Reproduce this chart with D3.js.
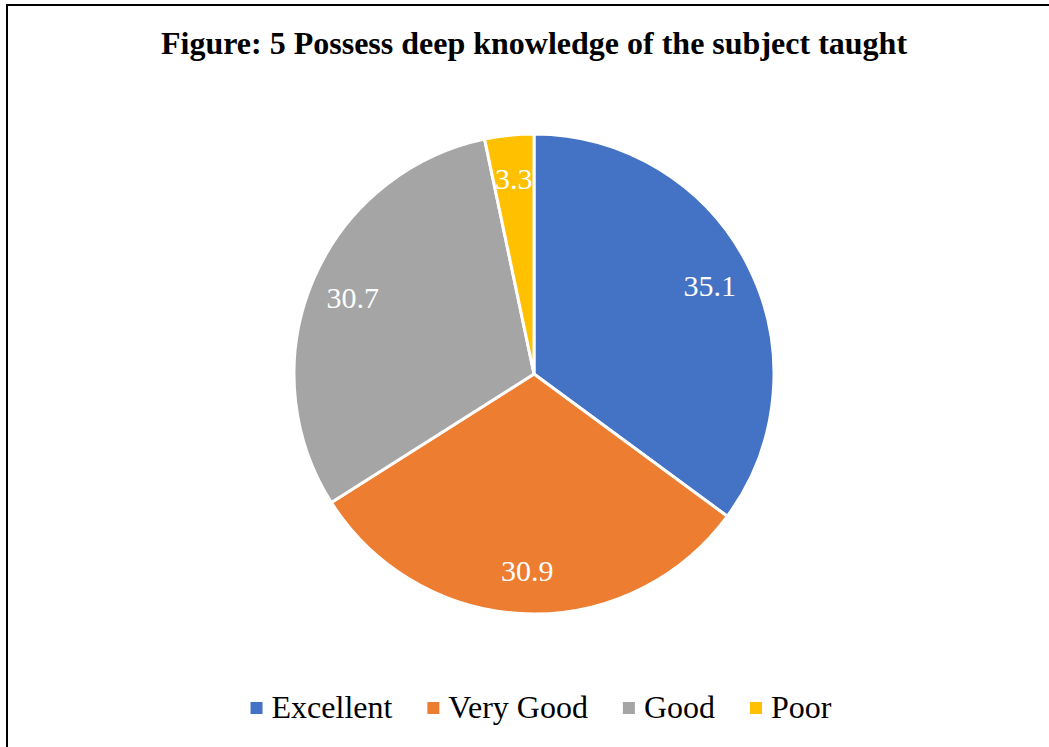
<!DOCTYPE html>
<html>
<head>
<meta charset="utf-8">
<script src="https://cdn.jsdelivr.net/npm/d3@7"></script>
<style>
  html, body { margin: 0; padding: 0; background: #fff; }
  svg { display: block; }
</style>
</head>
<body>
<svg id="chart" width="1049" height="747"></svg>
<script>
const categories = ["Excellent", "Very Good", "Good", "Poor"];
const values = [35.1, 30.9, 30.7, 3.3];
const colors = ["#4472c4", "#ed7d31", "#a5a5a5", "#ffc000"];
const title = "Figure: 5 Possess deep knowledge of the subject taught";

const W = 1049, H = 747;
const cx = 534, cy = 374, radius = 240;
const serif = "'Liberation Serif', 'Times New Roman', serif";

const svg = d3.select("#chart");

// frame (only left and top edges visible in the crop)
svg.append("path")
  .attr("d", `M7,${H} L7,5 L${W},5`)
  .attr("fill", "none")
  .attr("stroke", "#000")
  .attr("stroke-width", 2);

svg.append("text")
  .attr("x", cx)
  .attr("y", 54)
  .attr("text-anchor", "middle")
  .attr("font-family", serif)
  .attr("font-weight", "bold")
  .attr("font-size", 32)
  .attr("fill", "#000")
  .text(title);

const data = categories.map((c, i) => ({ name: c, value: values[i], color: colors[i] }));

const pie = d3.pie().sort(null).value(d => d.value);
const arcs = pie(data);
const arc = d3.arc().innerRadius(0).outerRadius(radius);
const labelArc = d3.arc().innerRadius(radius * 0.82).outerRadius(radius * 0.82);

const g = svg.append("g").attr("transform", `translate(${cx},${cy})`);

g.selectAll("path.slice")
  .data(arcs)
  .join("path")
  .attr("class", "slice")
  .attr("d", arc)
  .attr("fill", d => d.data.color)
  .attr("stroke", "#fff")
  .attr("stroke-width", 3)
  .attr("stroke-linejoin", "round");

g.selectAll("text.lbl")
  .data(arcs)
  .join("text")
  .attr("class", "lbl")
  .attr("transform", d => `translate(${labelArc.centroid(d)})`)
  .attr("text-anchor", "middle")
  .attr("dominant-baseline", "central")
  .attr("font-family", serif)
  .attr("font-size", 30)
  .attr("fill", "#fff")
  .text(d => d.data.value.toFixed(1));

// legend, centered under the pie
const legend = svg.append("g");
const items = legend.selectAll("g.item")
  .data(data)
  .join("g")
  .attr("class", "item");

items.append("rect")
  .attr("width", 12)
  .attr("height", 12)
  .attr("y", -16)
  .attr("fill", d => d.color);

items.append("text")
  .attr("x", 21)
  .attr("font-family", serif)
  .attr("font-size", 32)
  .attr("fill", "#000")
  .text(d => d.name);

let x = 0;
const gap = 35;
items.each(function () {
  const w = 21 + this.querySelector("text").getComputedTextLength();
  d3.select(this).attr("transform", `translate(${x},0)`);
  x += w + gap;
});
const total = x - gap;
legend.attr("transform", `translate(${cx + 7 - total / 2},718)`);
</script>
</body>
</html>
